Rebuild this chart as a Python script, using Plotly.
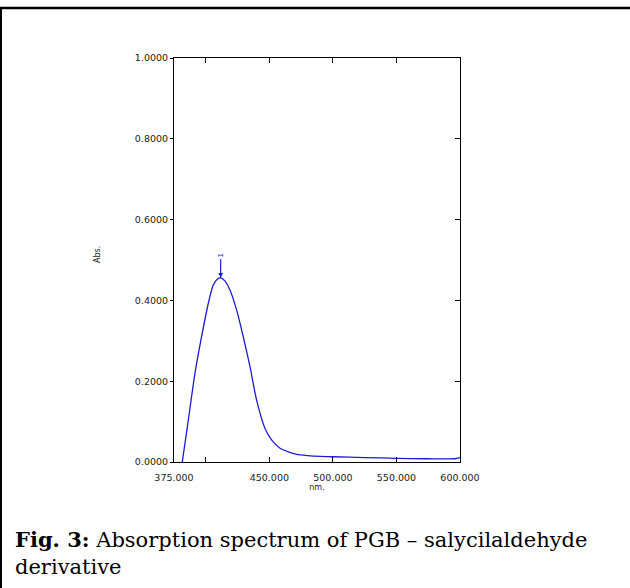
import plotly.graph_objects as go

wavelength_nm = [381.5, 385.5, 391.5, 396.2, 402.0, 405.9, 408.8, 411.7, 414.8, 419.0,
                 424.3, 429.5, 434.8, 440.0, 446.6, 451.9, 458.4, 465.0, 471.5, 480.0,
                 490.0, 500.0, 525.0, 550.0, 575.0, 596.0, 600.0]
absorbance = [0.000, 0.087, 0.220, 0.302, 0.393, 0.438, 0.452, 0.456, 0.449, 0.426,
              0.376, 0.310, 0.236, 0.153, 0.083, 0.054, 0.034, 0.025, 0.019, 0.016,
              0.014, 0.013, 0.011, 0.009, 0.008, 0.008, 0.011]

peak_nm = 411.7
peak_abs = 0.456
peak_label = "1"

x_label_vals = [375, 450, 500, 550, 600]
x_tick_vals = [400, 450, 500, 550]
y_tick_vals = [0.0, 0.2, 0.4, 0.6, 0.8, 1.0]
x_range = [375, 600]
y_range = [0, 1.0]

caption = "<b>Fig. 3:</b> Absorption spectrum of PGB – salycilaldehyde<br>derivative"

W, H = 630, 588
ML, MR, MT, MB = 174, 170, 58, 126
PW, PH = W - ML - MR, H - MT - MB


def px_to_paper_x(px):
    return (px - ML) / PW


def px_to_paper_y(py):
    return 1 - (py - MT) / PH


blue = "#1c1cd0"
tick_font = dict(family="DejaVu Sans", size=9.5, color="#222222")

fig = go.Figure()
fig.add_trace(go.Scatter(x=wavelength_nm, y=absorbance, mode="lines",
                         line=dict(color=blue, width=1.3, shape="spline", smoothing=0.6),
                         hoverinfo="skip", showlegend=False))
# invisible trace to instantiate the overlay axes
fig.add_trace(go.Scatter(x=wavelength_nm, y=absorbance, mode="lines", xaxis="x2", yaxis="y2",
                         line=dict(color="rgba(0,0,0,0)", width=0),
                         hoverinfo="skip", showlegend=False))

fig.update_layout(
    width=W, height=H,
    margin=dict(l=ML, r=MR, t=MT, b=MB, pad=0),
    paper_bgcolor="white", plot_bgcolor="white",
    xaxis=dict(range=x_range, tickvals=x_label_vals, tickformat=".3f",
               ticks="outside", ticklen=7, tickcolor="rgba(0,0,0,0)",
               showgrid=False, zeroline=False, showline=True, linecolor="black", linewidth=1,
               tickfont=tick_font,
               title=dict(text="nm.", font=dict(family="DejaVu Sans", size=8, color="#222222"), standoff=1)),
    xaxis2=dict(range=x_range, overlaying="x", side="bottom", anchor="y", tickvals=x_tick_vals,
                ticks="inside", ticklen=5, tickcolor="black", tickwidth=1,
                showticklabels=False, showgrid=False, zeroline=False,
                showline=True, linecolor="black", linewidth=1, mirror="ticks"),
    yaxis=dict(range=y_range, tickvals=y_tick_vals, tickformat=".4f", ticks="outside",
               ticklen=3, tickcolor="black", tickwidth=1,
               showgrid=False, zeroline=False, showline=True, linecolor="black", linewidth=1,
               tickfont=tick_font),
    yaxis2=dict(range=y_range, overlaying="y", side="right", anchor="x", tickvals=y_tick_vals,
                ticks="inside", ticklen=5, tickcolor="black", tickwidth=1,
                showticklabels=False, showgrid=False, zeroline=False,
                showline=True, linecolor="black", linewidth=1),
)

annotations = [
    dict(x=peak_nm, y=peak_abs, xref="x", yref="y", text=peak_label, textangle=-90,
         showarrow=True, arrowhead=2, arrowsize=0.8, arrowwidth=1.2, arrowcolor=blue,
         ax=0, ay=-22, font=dict(family="DejaVu Sans", size=7, color=blue)),
    dict(x=px_to_paper_x(97), y=px_to_paper_y(255), xref="paper", yref="paper",
         xanchor="center", yanchor="middle",
         text="Abs.", textangle=-90, showarrow=False,
         font=dict(family="DejaVu Sans", size=8, color="#222222")),
    dict(x=px_to_paper_x(13), y=px_to_paper_y(525), xref="paper", yref="paper",
         xanchor="left", yanchor="top", align="left", text=caption, showarrow=False,
         font=dict(family="DejaVu Serif", size=21, color="black")),
]
fig.update_layout(annotations=annotations)

shapes = [
    dict(type="line", xref="paper", yref="paper",
         x0=px_to_paper_x(0), x1=px_to_paper_x(W), y0=px_to_paper_y(8), y1=px_to_paper_y(8),
         line=dict(color="black", width=2.5)),
    dict(type="line", xref="paper", yref="paper",
         x0=px_to_paper_x(1), x1=px_to_paper_x(1), y0=px_to_paper_y(7), y1=px_to_paper_y(H),
         line=dict(color="black", width=2)),
]
fig.update_layout(shapes=shapes)

fig.write_html("out.html", config={"displayModeBar": False},
               post_script="document.body.style.margin='0';document.body.style.overflow='hidden';")
